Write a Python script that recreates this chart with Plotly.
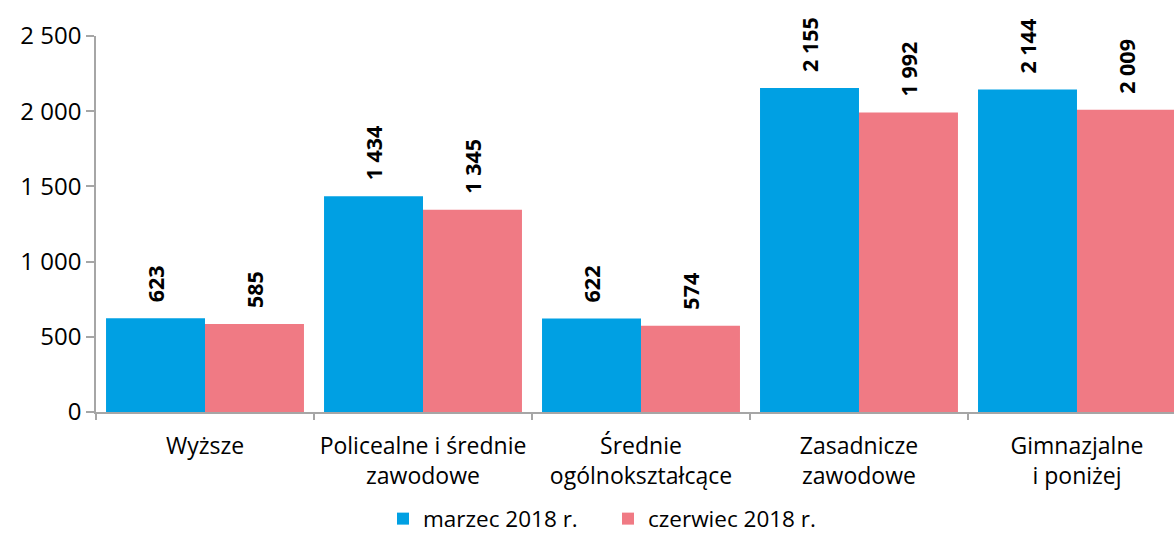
import plotly.graph_objects as go

# Bezrobotni według poziomu wykształcenia
categories = [
    "Wyższe",
    "Policealne i średnie<br>zawodowe",
    "Średnie<br>ogólnokształcące",
    "Zasadnicze<br>zawodowe",
    "Gimnazjalne<br>i poniżej",
]
march_2018 = [623, 1434, 622, 2155, 2144]
june_2018 = [585, 1345, 574, 1992, 2009]
series_names = ["marzec 2018 r.", "czerwiec 2018 r."]
y_ticks = [0, 500, 1000, 1500, 2000, 2500]

BLUE = "#00A0E3"
PINK = "#F07A84"
AXIS = "#A6A6A6"
FONT = "Open Sans"

fig = go.Figure()
for name, vals, color in [(series_names[0], march_2018, BLUE), (series_names[1], june_2018, PINK)]:
    fig.add_trace(go.Bar(
        x=categories,
        y=vals,
        name=name,
        marker=dict(color=color, line=dict(width=0)),
        cliponaxis=False,
    ))


def fmt(v):
    return f"{v:,}".replace(",", " ")


# rotated value labels above each bar
half = (1 - 0.092) / 4
for offset, vals in [(-half, march_2018), (half, june_2018)]:
    for i, v in enumerate(vals):
        fig.add_annotation(
            x=i + offset, y=v, xref="x", yref="y",
            text=f"<b>{fmt(v)}</b>", textangle=-90,
            showarrow=False, yanchor="bottom", xanchor="center",
            yshift=14, font=dict(family=FONT, size=21.5, color="#000000"),
        )

fig.update_layout(
    width=1174, height=534,
    margin=dict(l=96, r=0, t=36, b=121.5, pad=0, autoexpand=False),
    paper_bgcolor="white", plot_bgcolor="white",
    barmode="group", bargap=0.092, bargroupgap=0,
    separators=", ",
    font=dict(family=FONT, size=23, color="#000000"),
    showlegend=True,
    legend=dict(
        orientation="h", xref="container", yref="container",
        x=383 / 1174, xanchor="left", y=(534 - 519) / 534, yanchor="middle",
        font=dict(family=FONT, size=22.5, color="#000000"),
        itemwidth=30, tracegroupgap=0, entrywidth=180,
    ),
    xaxis=dict(
        type="category", tickson="boundaries",
        range=[-0.5, 4.445], showgrid=False, zeroline=False, automargin=False,
        showline=True, linecolor=AXIS, linewidth=1.5,
        ticks="outside", ticklen=6, tickcolor=AXIS, tickwidth=1.5,
        ticklabelstandoff=13,
        tickfont=dict(family=FONT, size=23),
    ),
    yaxis=dict(
        range=[0, 2500], tickvals=y_ticks, tickformat=",d", automargin=False,
        showgrid=False, zeroline=False,
        showline=True, linecolor=AXIS, linewidth=1.5,
        ticks="outside", ticklen=8, tickcolor=AXIS, tickwidth=1.5,
        tickfont=dict(family=FONT, size=24),
    ),
)

fig.write_html("out.html")
